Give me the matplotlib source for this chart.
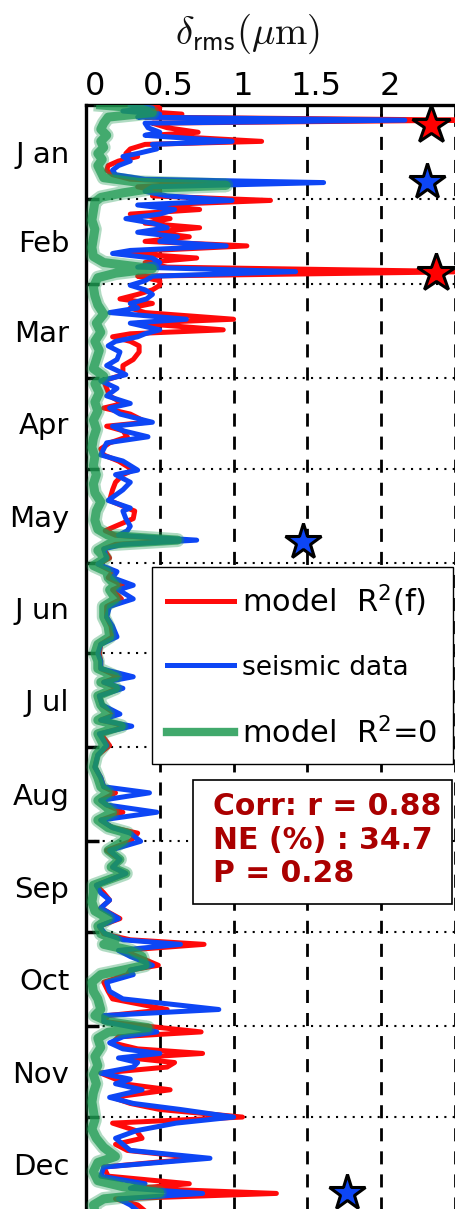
import numpy as np
import matplotlib.pyplot as plt
import matplotlib.transforms as mtransforms
from matplotlib.patches import Rectangle
from matplotlib.lines import Line2D

# day of year (0 = 1 Jan) and displacement in micrometres
days = [0, 1, 2, 3, 4, 5, 6, 7.5, 9, 10, 12, 13, 14.5, 16, 17, 18.5, 20, 21.5, 23, 24.5,
        25.6, 27, 28.5, 30, 31.5, 33, 34.5, 36, 37.5, 39, 40.5, 42, 43.5, 45, 46.5, 48,
        49, 50.5, 52, 53.5, 55, 56.5, 58, 59.5, 61, 62.5, 64, 65.5, 67, 68.5, 70.7, 72,
        74.2, 75.5, 76.5, 78, 79.5, 81.5, 84, 86, 89, 91, 93.5, 96, 98.5, 100, 102, 104.7,
        106, 107.5, 109.5, 111.5, 113.5, 115.5, 117.5, 120.5, 122, 124.5, 127, 130.5, 133,
        134, 136.5, 139, 140.5, 142, 143.6, 145, 146.5, 149.5, 151.5, 154, 156, 158.5, 160,
        163, 165.5, 169, 172, 175.5, 178, 181, 183.5, 186, 188.7, 190.5, 192.5, 195, 198,
        201, 203, 205, 207.5, 211.4, 214.5, 218.5, 222, 225, 227, 229.5, 231, 233.4, 236,
        238.5, 240.3, 243, 246, 249, 251.5, 253.6, 257.5, 260, 262.4, 265, 268.5, 271,
        273.5, 275.5, 277, 279, 281, 283.9, 285.5, 287, 289.5, 292.5, 295, 298.5, 300.5,
        302.5, 305.9, 307.5, 309.5, 311.5, 313, 314.5, 316, 317.5, 319.5, 321.5, 323, 325,
        327.5, 329.5, 331.5, 334, 336, 338.5, 341, 343, 345, 347.6, 350.5, 353.5, 356,
        357.5, 359.2, 361, 363, 365]
model_f = [0.45, 0.50, 0.35, 0.65, 0.40, 2.60, 0.45, 0.55, 0.76, 0.45, 1.19, 0.40, 0.30,
           0.27, 0.35, 0.22, 0.15, 0.14, 0.18, 0.30, 0.85, 0.35, 0.50, 0.45, 1.25, 0.45,
           0.77, 0.30, 0.57, 0.40, 0.77, 0.45, 0.70, 0.40, 1.09, 0.45, 0.30, 0.75, 0.40,
           0.55, 2.60, 0.35, 0.50, 0.50, 0.45, 0.35, 0.23, 0.45, 0.30, 0.40, 1.00, 0.35,
           0.93, 0.30, 0.18, 0.30, 0.36, 0.36, 0.32, 0.25, 0.25, 0.12, 0.14, 0.16, 0.25,
           0.12, 0.30, 0.41, 0.14, 0.25, 0.28, 0.16, 0.10, 0.12, 0.22, 0.32, 0.25, 0.20,
           0.18, 0.16, 0.28, 0.33, 0.32, 0.20, 0.13, 0.20, 0.68, 0.20, 0.12, 0.16, 0.08,
           0.18, 0.15, 0.25, 0.18, 0.24, 0.14, 0.14, 0.17, 0.18, 0.10, 0.09, 0.10, 0.10,
           0.22, 0.12, 0.22, 0.09, 0.11, 0.20, 0.10, 0.28, 0.10, 0.16, 0.08, 0.06, 0.10,
           0.12, 0.20, 0.10, 0.14, 0.25, 0.10, 0.18, 0.35, 0.30, 0.14, 0.23, 0.18, 0.27,
           0.07, 0.12, 0.16, 0.10, 0.23, 0.09, 0.12, 0.30, 0.80, 0.25, 0.35, 0.49, 0.30,
           0.28, 0.12, 0.15, 0.18, 0.55, 0.15, 0.12, 0.78, 0.22, 0.18, 0.35, 0.79, 0.30,
           0.60, 0.55, 0.10, 0.20, 0.25, 0.57, 0.18, 0.30, 0.50, 1.06, 0.18, 0.34, 0.38,
           0.20, 0.28, 0.77, 0.12, 0.15, 0.70, 0.35, 1.29, 0.20, 0.35, 0.40]
seismic = [0.30, 0.45, 0.25, 0.50, 0.35, 2.16, 0.40, 0.42, 0.50, 0.40, 0.99, 0.45, 0.48,
           0.35, 0.25, 0.30, 0.22, 0.18, 0.20, 0.40, 1.61, 0.45, 0.40, 0.55, 0.99, 0.35,
           0.60, 0.50, 0.27, 0.45, 0.55, 0.35, 0.62, 0.50, 0.95, 0.30, 0.18, 0.45, 0.50,
           0.35, 1.42, 0.45, 0.40, 0.30, 0.40, 0.45, 0.41, 0.30, 0.35, 0.16, 0.68, 0.30,
           0.50, 0.40, 0.35, 0.20, 0.15, 0.23, 0.21, 0.14, 0.27, 0.10, 0.21, 0.14, 0.30,
           0.16, 0.23, 0.45, 0.18, 0.25, 0.42, 0.14, 0.12, 0.10, 0.25, 0.35, 0.20, 0.30,
           0.25, 0.15, 0.30, 0.25, 0.27, 0.30, 0.28, 0.22, 0.75, 0.25, 0.12, 0.14, 0.08,
           0.21, 0.18, 0.32, 0.22, 0.32, 0.16, 0.14, 0.18, 0.21, 0.10, 0.08, 0.10, 0.10,
           0.32, 0.12, 0.25, 0.09, 0.11, 0.23, 0.10, 0.31, 0.09, 0.14, 0.08, 0.06, 0.10,
           0.12, 0.43, 0.10, 0.14, 0.48, 0.10, 0.18, 0.30, 0.37, 0.16, 0.23, 0.18, 0.27,
           0.07, 0.10, 0.16, 0.10, 0.22, 0.09, 0.13, 0.25, 0.64, 0.22, 0.30, 0.45, 0.30,
           0.32, 0.14, 0.16, 0.25, 0.90, 0.12, 0.12, 0.48, 0.25, 0.16, 0.25, 0.50, 0.22,
           0.35, 0.32, 0.10, 0.30, 0.20, 0.38, 0.16, 0.32, 0.64, 1.00, 0.61, 0.34, 0.20,
           0.25, 0.30, 0.84, 0.12, 0.10, 0.40, 0.30, 0.79, 0.22, 0.30, 0.35]

days_r0 = [0, 1, 2.5, 4, 6, 8, 10, 12, 14, 16, 18, 20, 22, 24, 25.5, 26.5, 27.5, 29, 30.5,
           32, 35, 38, 41, 44, 47, 50, 52, 54, 55.5, 57, 60, 63, 66, 69, 72, 75, 78, 81,
           84, 87, 89.5, 92, 95, 98, 101, 104, 107, 110, 113, 116, 119, 122, 125, 128,
           131, 134, 137, 140, 142, 143.6, 145, 147, 149.5, 152, 154, 156, 158.5, 160,
           163, 165.5, 169, 172, 175.5, 178, 181, 183.5, 186, 188.7, 190.5, 192.5, 195,
           198, 201, 203, 205, 207.5, 211.4, 214.5, 218.5, 222, 225, 227, 229.5, 231,
           233.4, 236, 238.5, 240.3, 243, 246, 249, 251.5, 253.6, 257.5, 260, 263, 266,
           268.5, 271, 273.5, 275.5, 277, 279, 281, 283.9, 285.5, 287, 289.5, 292.5, 295,
           298.5, 300.5, 302.5, 304.5, 306, 308, 311, 314, 317, 320, 323, 326, 329, 332,
           335, 338, 341, 344, 347, 349, 352, 355, 357, 359, 361, 363, 365]
model_r0 = [0.10, 0.35, 0.45, 0.15, 0.12, 0.10, 0.14, 0.10, 0.12, 0.08, 0.11, 0.08, 0.10,
            0.12, 0.35, 0.95, 0.45, 0.25, 0.10, 0.06, 0.05, 0.04, 0.06, 0.05, 0.04, 0.05,
            0.12, 0.45, 0.20, 0.08, 0.05, 0.06, 0.08, 0.12, 0.07, 0.10, 0.06, 0.09, 0.07,
            0.05, 0.12, 0.06, 0.09, 0.06, 0.08, 0.05, 0.07, 0.05, 0.04, 0.06, 0.05, 0.07,
            0.05, 0.06, 0.10, 0.07, 0.06, 0.08, 0.15, 0.62, 0.15, 0.08, 0.13, 0.05, 0.14,
            0.15, 0.20, 0.16, 0.20, 0.12, 0.12, 0.15, 0.16, 0.08, 0.06, 0.08, 0.08, 0.20,
            0.10, 0.20, 0.08, 0.10, 0.15, 0.08, 0.24, 0.08, 0.12, 0.07, 0.05, 0.08, 0.10,
            0.15, 0.08, 0.12, 0.18, 0.08, 0.15, 0.28, 0.25, 0.15, 0.23, 0.17, 0.27, 0.05,
            0.05, 0.04, 0.06, 0.15, 0.08, 0.10, 0.20, 0.12, 0.30, 0.38, 0.40, 0.25, 0.10,
            0.04, 0.05, 0.08, 0.10, 0.06, 0.15, 0.42, 0.15, 0.08, 0.10, 0.06, 0.08, 0.05,
            0.07, 0.05, 0.04, 0.05, 0.06, 0.04, 0.07, 0.12, 0.20, 0.08, 0.05, 0.08, 0.25,
            0.50, 0.12, 0.05, 0.06]

# event markers (value, day)
red_star_x = [2.34, 2.37]
red_star_day = [6.6, 55.5]
blue_star_x = [2.31, 1.47, 1.77]
blue_star_day = [25.3, 144.1, 359]

months = ['J an', 'Feb', 'Mar', 'Apr', 'May', 'J un', 'J ul', 'Aug', 'Sep', 'Oct', 'Nov', 'Dec']
month_start = [0, 31, 59, 90, 120, 151, 181, 212, 243, 273, 304, 334, 365]

stats = ['Corr: r = 0.88', 'NE (%) : 34.7', 'P = 0.28']

RED = '#ff0a0a'
BLUE = '#0d46f5'
GREEN = '#1f9a52'
W, H = 456, 1209


def fx(px):
    return px / W


def fy(py):
    return 1 - py / H


fig = plt.figure(figsize=(W / 100, H / 100), dpi=100)
ax = fig.add_axes([fx(86), fy(1211), fx(455) - fx(86), fy(105) - fy(1211)])

ax.plot(model_f, days, color=RED, lw=3.6, solid_joinstyle='round', zorder=3)
ax.plot(seismic, days, color=BLUE, lw=3.6, solid_joinstyle='round', zorder=4)
# soft thick band for the R2=0 model
ax.plot(model_r0, days_r0, color=GREEN, lw=10, alpha=0.35, solid_joinstyle='round', zorder=5)
ax.plot(model_r0, days_r0, color=GREEN, lw=6.5, alpha=0.75, solid_joinstyle='round', zorder=5)

ax.plot(red_star_x, red_star_day, ls='none', marker='*', ms=29, mfc='red',
        mec='k', mew=2.2, zorder=6, clip_on=False)
ax.plot(blue_star_x, blue_star_day, ls='none', marker='*', ms=27, mfc=BLUE,
        mec='k', mew=2.2, zorder=6, clip_on=False)

ax.set_xlim(0, 2.5)
ax.set_ylim(365, 0)

ax.xaxis.tick_top()
ax.set_xticks([0, 0.5, 1, 1.5, 2, 2.5])
ax.set_xticklabels(['0', '0.5', '1', '1.5', '2', ''])
ax.tick_params(axis='x', direction='in', length=8, width=2, labelsize=23, pad=2)
shift = mtransforms.ScaledTranslation(0.09, 0, fig.dpi_scale_trans)
for lab in ax.get_xticklabels():
    lab.set_transform(lab.get_transform() + shift)

mid = [(a + b) / 2 for a, b in zip(month_start[:-1], month_start[1:])]
ax.set_yticks(month_start[1:-1])
ax.set_yticklabels([])
ax.set_yticks(mid, minor=True)
ax.set_yticklabels(months, minor=True)
ax.tick_params(axis='y', which='major', direction='in', length=9, width=2.5)
ax.tick_params(axis='y', which='minor', length=0, labelsize=21, pad=12)

ax.set_axisbelow(True)
ax.grid(axis='x', which='major', color='k', lw=2, ls=(0, (4.7, 3.6)))
ax.grid(axis='y', which='major', color='k', lw=1.5, ls=(0, (1, 3)))

for s in ['right', 'bottom']:
    ax.spines[s].set_visible(False)
for s in ['left', 'top']:
    ax.spines[s].set_linewidth(2.4)

fig.text(fx(248), fy(34), r'$\delta_{\mathsf{rms}}(\mu\mathrm{m})$', math_fontfamily='cm',
         fontsize=28, ha='center', va='center', color='#111111')

handles = [Line2D([], [], color=RED, lw=3.6),
           Line2D([], [], color=BLUE, lw=3.6),
           Line2D([], [], color=GREEN, lw=6, alpha=0.85)]
leg = fig.legend(handles, [r'model  R$^2$(f)', 'seismic data', r'model  R$^2$=0'],
                 loc='upper left', bbox_to_anchor=(fx(152), fy(567)),
                 bbox_transform=fig.transFigure, fontsize=22, frameon=True,
                 fancybox=False, edgecolor='k', framealpha=1, handlelength=2.2,
                 handletextpad=0.25, labelspacing=1.15, borderpad=0.5, borderaxespad=0)
leg.get_frame().set_linewidth(1)
leg.get_texts()[1].set_fontsize(19)

fig.add_artist(Rectangle((fx(193), fy(904)), fx(452) - fx(193), fy(780) - fy(904),
                         transform=fig.transFigure, facecolor='white', edgecolor='k',
                         lw=1.2, zorder=10))
fig.text(fx(213), fy(792), '\n'.join(stats), fontsize=21.5, fontweight='bold',
         color='#aa0000', ha='left', va='top', linespacing=1.2, zorder=11)

fig.savefig('out.png', dpi=100)
